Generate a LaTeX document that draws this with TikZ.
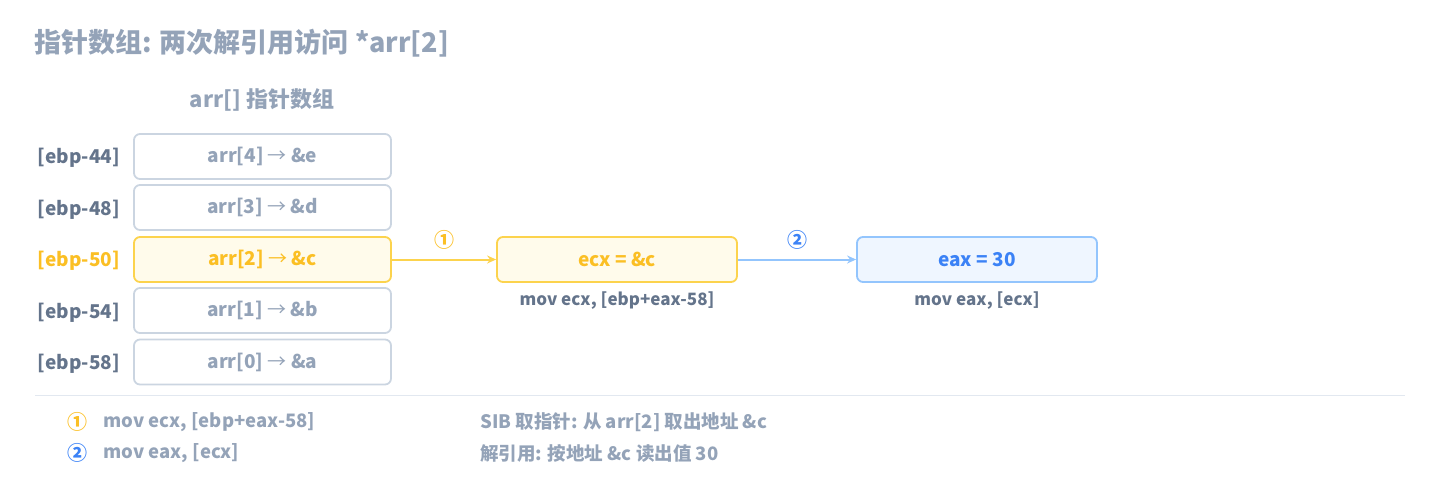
\documentclass[tikz,border=0pt]{standalone}
\usepackage{fontspec}
\setmainfont{Noto Sans CJK SC}
\usetikzlibrary{arrows.meta}
\definecolor{ttl}{HTML}{94A3B8}
\definecolor{lbl}{HTML}{64748B}
\definecolor{bdr}{HTML}{CBD5E1}
\definecolor{amb}{HTML}{FBBF24}
\definecolor{ambb}{HTML}{FCD34D}
\definecolor{ambf}{HTML}{FFFBEB}
\definecolor{blu}{HTML}{3B82F6}
\definecolor{blub}{HTML}{93C5FD}
\definecolor{bluf}{HTML}{EFF6FF}
\definecolor{sep}{HTML}{E2E8F0}
\newcommand{\rarr}{{\mdseries →}}
\tikzset{
  cell/.style={draw=bdr, line width=1.8pt, rounded corners=6pt, minimum width=257pt, minimum height=45pt, text=ttl, font=\bfseries\fontsize{19}{20}\selectfont, inner sep=0pt},
  hcell/.style={cell, draw=ambb, fill=ambf, text=amb},
  addr/.style={anchor=east, text=lbl, font=\bfseries\fontsize{19}{20}\selectfont, inner sep=0pt},
  regbox/.style={draw=ambb, fill=ambf, text=amb, line width=1.8pt, rounded corners=6pt, minimum width=240pt, minimum height=45pt, font=\bfseries\fontsize{19}{20}\selectfont, inner sep=0pt},
  captxt/.style={text=lbl, font=\bfseries\fontsize{17}{18}\selectfont, inner sep=0pt},
  leg/.style={anchor=west, text=ttl, font=\bfseries\fontsize{18.5}{20}\selectfont, inner sep=0pt},
  num/.style={font=\bfseries\fontsize{20}{20}\selectfont, inner sep=0pt},
  conn/.style={line width=2pt, -{Stealth[length=9pt,width=8pt]}},
}
\begin{document}
\begin{tikzpicture}[x=1pt,y=-1pt]
\useasboundingbox (0,0) rectangle (1440,501);
\node[anchor=west, text=ttl, font=\bfseries\fontsize{27}{30}\selectfont, inner sep=0pt] (title) at (34,43) {指针数组: 两次解引用访问 *arr[2]};
\node[text=ttl, font=\bfseries\fontsize{22}{24}\selectfont, inner sep=0pt] (sub) at (262,100) {arr[] 指针数组};

\node[cell] (c4) at (262.5,156.5) {arr[4] \rarr{} \&e};
\node[cell] (c3) at (262.5,207.5) {arr[3] \rarr{} \&d};
\node[hcell] (c2) at (262.5,259.5) {arr[2] \rarr{} \&c};
\node[cell] (c1) at (262.5,310.5) {arr[1] \rarr{} \&b};
\node[cell] (c0) at (262.5,362) {arr[0] \rarr{} \&a};

\node[addr] (a4) at (120,158) {[ebp-44]};
\node[addr] (a3) at (120,209.5) {[ebp-48]};
\node[addr, text=amb] (a2) at (120,261) {[ebp-50]};
\node[addr] (a1) at (120,312.5) {[ebp-54]};
\node[addr] (a0) at (120,364) {[ebp-58]};

\node[regbox] (ecx) at (617,259.5) {ecx = \&c};
\node[regbox, draw=blub, fill=bluf, text=blu] (eax) at (977,259.5) {eax = 30};
\node[captxt] (capa) at (617,301) {mov ecx, [ebp+eax-58]};
\node[captxt] (capb) at (977,301) {mov eax, [ecx]};

\draw[conn, draw=ambb] (c2.east) -- (ecx.west) node[midway, above=9pt, text=amb, num] (n1) {①};
\draw[conn, draw=blub] (ecx.east) -- (eax.west) node[midway, above=9pt, text=blu, num] (n2) {②};

\coordinate (s1) at (35,395);
\coordinate (s2) at (1405,395);
\draw[sep, line width=1pt] (s1) -- (s2);

\node[text=amb, num] (l1) at (77,422) {①};
\node[text=blu, num] (l2) at (77,453) {②};
\node[leg] (m1) at (103,422) {mov ecx, [ebp+eax-58]};
\node[leg] (m2) at (103,453) {mov eax, [ecx]};
\node[leg] (d1) at (480,422) {SIB 取指针: 从 arr[2] 取出地址 \&c};
\node[leg] (d2) at (480,453) {解引用: 按地址 \&c 读出值 30};
\end{tikzpicture}
\end{document}
